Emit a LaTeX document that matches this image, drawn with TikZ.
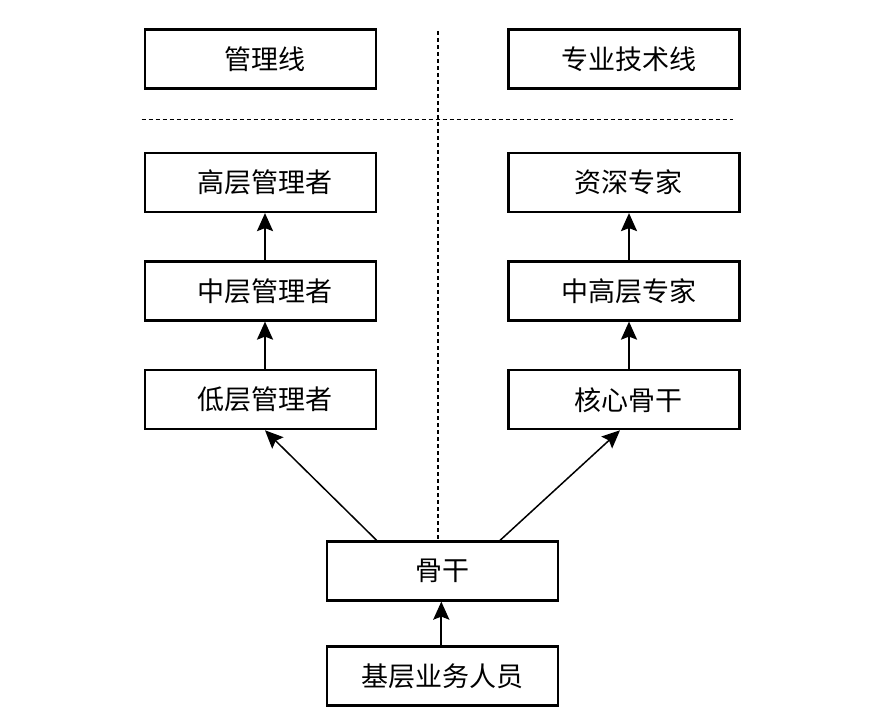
\documentclass[tikz,border=0pt]{standalone}
\usepackage{fontspec}
\setmainfont{Noto Sans CJK SC}
\usetikzlibrary{arrows.meta}
\tikzset{
  box/.style={draw, line width=2.2pt, minimum width=231pt, minimum height=59pt, inner sep=0pt, font=\fontsize{27pt}{30pt}\selectfont},
  arr/.style={line width=2.2pt, -{Stealth[length=18pt,width=16pt,inset=3pt]}},
  darr/.style={line width=1.5pt, -{Stealth[length=18pt,width=16pt,inset=3pt]}},
  sep/.style={line width=1.8pt, dash pattern=on 4pt off 3pt}
}
\begin{document}
\begin{tikzpicture}[x=1pt,y=-1pt]
\useasboundingbox (0,0) rectangle (884,722);
\node[box] (gl) at (260.5,59) {\hspace*{9pt}管理线};
\node[box] (zy) at (624,59) {\hspace*{9pt}专业技术线};
\node[box] (gc) at (260.5,182.5) {\hspace*{9pt}高层管理者};
\node[box] (zc) at (260.5,291) {\hspace*{9pt}中层管理者};
\node[box] (dc) at (260.5,399.7) {\hspace*{9pt}低层管理者};
\node[box] (zs) at (624,182.5) {\hspace*{9pt}资深专家};
\node[box] (zg) at (624,291) {\hspace*{9pt}中高层专家};
\node[box] (hx) at (624,399.7) {\hspace*{9pt}核心骨干};
\node[box] (gg) at (442.3,571) {骨干};
\node[box] (jc) at (442.3,676) {基层业务人员};
\coordinate (hl) at (141.7,119.5);
\coordinate (hr) at (733,119.5);
\coordinate (vt) at (438,31);
\draw[sep] (hl) -- (hr);
\draw[sep] (vt) -- (vt |- gg.north);
\draw[arr] ([xshift=4.5pt]zc.north) -- ([xshift=4.5pt]gc.south);
\draw[arr] ([xshift=4.5pt]dc.north) -- ([xshift=4.5pt]zc.south);
\draw[arr] ([xshift=5pt]zg.north) -- ([xshift=5pt]zs.south);
\draw[arr] ([xshift=5pt]hx.north) -- ([xshift=5pt]zg.south);
\draw[arr] ([xshift=-1pt]jc.north) -- ([xshift=-1pt]gg.south);
\draw[darr] ([xshift=-65.6pt]gg.north) -- ([xshift=4.5pt]dc.south);
\draw[darr] ([xshift=57.7pt]gg.north) -- ([xshift=-4pt]hx.south);
\end{tikzpicture}
\end{document}
